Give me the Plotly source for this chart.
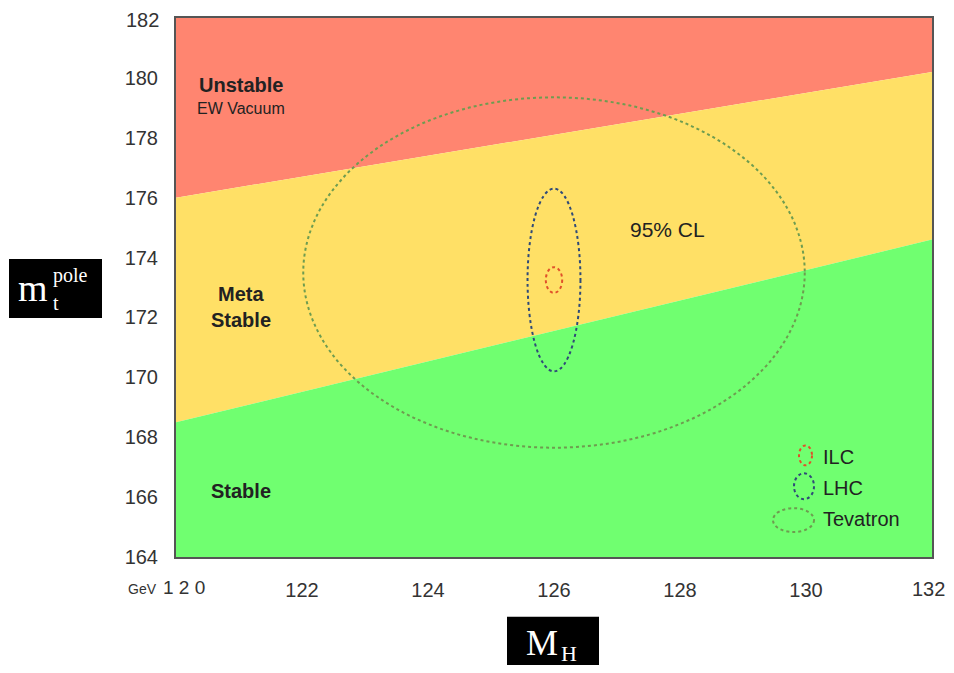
import plotly.graph_objects as go

# ---- data ----
mh_edges = [120, 132]
upper_boundary = [176.0, 180.2]   # unstable / metastable boundary
lower_boundary = [168.5, 174.6]   # metastable / stable boundary
y_min, y_max = 164, 182

ellipse_names = ["Tevatron", "LHC", "ILC"]
ellipse_cx = [126.0, 126.0, 126.0]
ellipse_cy = [173.5, 173.25, 173.25]
ellipse_rx = [3.98, 0.42, 0.13]
ellipse_ry = [5.85, 3.05, 0.43]
ellipse_colors = ["#6e9c50", "#2f4a78", "#e0502a"]

x_ticks = [120, 122, 124, 126, 128, 130, 132]
x_ticktext = ["", "122", "124", "126", "128", "130", ""]
y_ticks = [164, 166, 168, 170, 172, 174, 176, 178, 180, 182]
y_ticktext = ["164", "166", "168", "170", "172", "174", "176", "178", "180", ""]

RED = "#ff8570"
YELLOW = "#ffe066"
GREEN = "#70ff70"

fig = go.Figure()

fig.add_trace(go.Scatter(
    x=[mh_edges[0], mh_edges[1], mh_edges[1], mh_edges[0]],
    y=[upper_boundary[0], upper_boundary[1], y_max, y_max],
    fill="toself", fillcolor=RED, line=dict(width=0), mode="lines",
    hoverinfo="skip", showlegend=False))
fig.add_trace(go.Scatter(
    x=[mh_edges[0], mh_edges[1], mh_edges[1], mh_edges[0]],
    y=[lower_boundary[0], lower_boundary[1], upper_boundary[1], upper_boundary[0]],
    fill="toself", fillcolor=YELLOW, line=dict(width=0), mode="lines",
    hoverinfo="skip", showlegend=False))
fig.add_trace(go.Scatter(
    x=[mh_edges[0], mh_edges[1], mh_edges[1], mh_edges[0]],
    y=[y_min, y_min, lower_boundary[1], lower_boundary[0]],
    fill="toself", fillcolor=GREEN, line=dict(width=0), mode="lines",
    hoverinfo="skip", showlegend=False))

shapes = []
for cx, cy, rx, ry, col in zip(ellipse_cx, ellipse_cy, ellipse_rx, ellipse_ry, ellipse_colors):
    shapes.append(dict(type="circle", xref="x", yref="y",
                       x0=cx - rx, x1=cx + rx, y0=cy - ry, y1=cy + ry,
                       line=dict(color=col, width=2, dash="dot")))

# page pixel -> paper helpers (plot area in page: x 176..932, y 16..557)
BODY = 8
W, H = 954 - 2 * BODY, 673 - 2 * BODY
L, R, T, B = 176, 932, 16, 557
def px(x):
    return (x - L) / (R - L)
def py(y):
    return (B - y) / (B - T)

legend_syms = [(799, 812, 445, 465, "#e0502a"), (794, 814, 473, 499, "#2f4a78"), (773, 814, 508, 532, "#6e9c50")]
for x0, x1, y0, y1, col in legend_syms:
    shapes.append(dict(type="circle", xref="paper", yref="paper",
                       x0=px(x0), x1=px(x1), y0=py(y1), y1=py(y0),
                       line=dict(color=col, width=2, dash="dot")))

shapes.append(dict(type="rect", xref="paper", yref="paper",
                   x0=px(9), x1=px(102), y0=py(317), y1=py(258),
                   fillcolor="black", line=dict(width=0)))
shapes.append(dict(type="rect", xref="paper", yref="paper",
                   x0=px(507), x1=px(599), y0=py(690), y1=py(617),
                   fillcolor="black", line=dict(width=0)))

fnt = "Liberation Sans, Arial, sans-serif"
serif = "Liberation Serif, Times New Roman, serif"
annotations = []
def ann(x, y, text, size, color="#222", font=fnt, xanchor="center", yanchor="middle"):
    annotations.append(dict(x=px(x), y=py(y), xref="paper", yref="paper", text=text,
                            showarrow=False, font=dict(family=font, size=size, color=color),
                            xanchor=xanchor, yanchor=yanchor, borderpad=0))

ann(241, 83, "<b>Unstable</b>", 20)
ann(241, 107, "EW Vacuum", 16)
ann(241, 293, "<b>Meta</b>", 20)
ann(241, 319, "<b>Stable</b>", 20)
ann(241, 491, "<b>Stable</b>", 20)
ann(667, 228, "95% CL", 21)
ann(822, 457, "ILC", 20, xanchor="left")
ann(822, 488, "LHC", 20, xanchor="left")
ann(822, 519, "Tevatron", 20, xanchor="left")
ann(142, 589, "GeV", 14, color="#333")
ann(184, 588, "1 2 0", 19, color="#333")
# edge tick labels (kept inside the page)
ann(160, 18, "182", 20, color="#333", xanchor="right")
ann(946, 589, "132", 20, color="#333", xanchor="right")
# axis titles
ann(33, 287, "m", 38, color="white", font=serif)
ann(70, 274, "pole", 20, color="white", font=serif)
ann(56, 302, "t", 20, color="white", font=serif)
ann(542, 643, "M", 36, color="white", font=serif)
ann(569, 654, "H", 22, color="white", font=serif)

fig.update_layout(
    width=W, height=H,
    margin=dict(l=L - BODY, r=(954 - BODY) - R, t=T - BODY, b=(673 - BODY) - B),
    paper_bgcolor="white", plot_bgcolor="white",
    shapes=shapes, annotations=annotations,
    showlegend=False,
    xaxis=dict(range=[mh_edges[0], mh_edges[1]], tickvals=x_ticks, ticktext=x_ticktext,
               showgrid=False, zeroline=False, showline=True, mirror=True,
               linecolor="#555", linewidth=2, ticks="", ticklen=0, ticklabelstandoff=14,
               tickfont=dict(family=fnt, size=20, color="#333")),
    yaxis=dict(range=[y_min, y_max], tickvals=y_ticks, ticktext=y_ticktext,
               showgrid=False, zeroline=False, showline=True, mirror=True,
               linecolor="#555", linewidth=2, ticks="", ticklen=0, ticklabelstandoff=12,
               tickfont=dict(family=fnt, size=20, color="#333")),
)

fig.write_html("out.html")
